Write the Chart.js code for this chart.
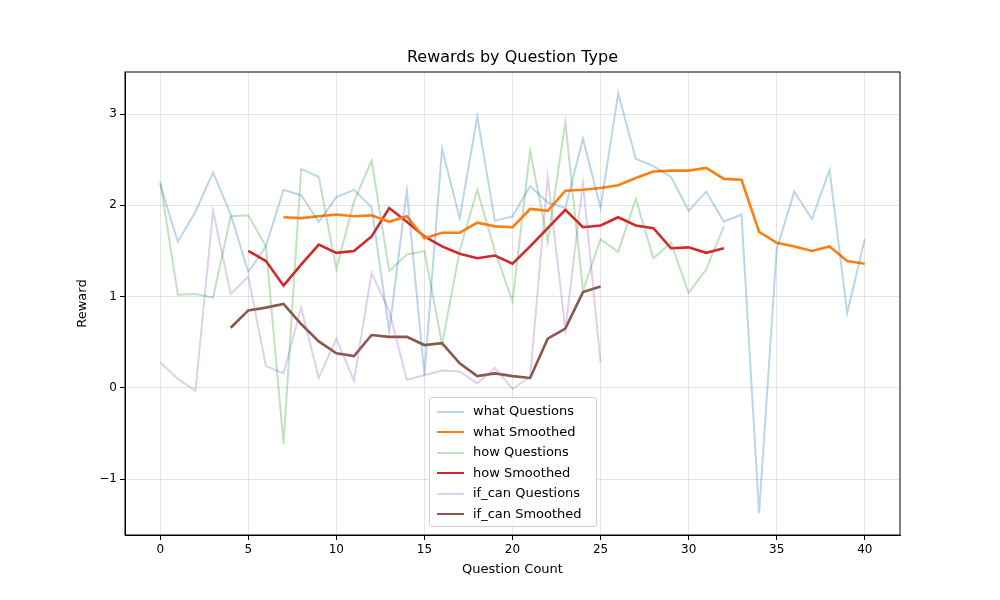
<!DOCTYPE html>
<html>
<head>
<meta charset="utf-8">
<script src="https://cdn.jsdelivr.net/npm/chart.js@4.4.0/dist/chart.umd.min.js"></script>
<style>
  body { margin: 0; background: #fff; font-family: "DejaVu Sans", sans-serif; }
  #wrap { position: relative; width: 1000px; height: 600px; }
  #legend {
    position: absolute; left: 429px; top: 397px; width: 166px;
    border: 1px solid #d0d0d0; border-radius: 3px; background: rgba(255,255,255,0.85);
    font-size: 13px; color: #000; padding: 3px 0 2px 0;
  }
  #legend div { height: 20.5px; line-height: 20.5px; white-space: nowrap; }
  #legend span { display: inline-block; width: 27px; margin: 0 9px 0 7px; vertical-align: middle; }
</style>
</head>
<body>
<div id="wrap">
  <canvas id="chart" width="1000" height="600"></canvas>
  <div id="legend"></div>
</div>
<script>
// raw rewards per question type
const whatRaw = [2.23,1.6,1.93,2.36,1.9,1.27,1.55,2.17,2.11,1.82,2.09,2.17,1.98,0.62,2.16,0.14,2.62,1.86,2.97,1.83,1.88,2.21,2.03,1.97,2.73,1.97,3.23,2.51,2.43,2.31,1.94,2.15,1.82,1.9,-1.37,1.52,2.15,1.85,2.39,0.82,1.63];
const howRaw = [2.26,1.02,1.03,0.99,1.88,1.89,1.55,-0.61,2.4,2.31,1.3,2.04,2.49,1.28,1.46,1.5,0.48,1.5,2.17,1.5,0.95,2.6,1.6,2.91,1.06,1.63,1.49,2.07,1.42,1.59,1.04,1.3,1.77];
const ifcanRaw = [0.28,0.1,-0.03,1.94,1.03,1.22,0.24,0.16,0.88,0.11,0.54,0.08,1.26,0.84,0.09,0.14,0.19,0.18,0.05,0.22,-0.01,0.12,2.31,0.64,2.24,0.28];

// smoothed curves and the x where each starts
const whatSmooth = [1.87,1.86,1.88,1.9,1.88,1.89,1.82,1.88,1.64,1.7,1.7,1.81,1.77,1.76,1.96,1.94,2.16,2.17,2.19,2.22,2.3,2.37,2.38,2.38,2.41,2.29,2.28,1.71,1.59,1.55,1.5,1.55,1.39,1.36];
const whatStart = 7;
const howSmooth = [1.5,1.39,1.12,1.35,1.57,1.48,1.5,1.66,1.97,1.82,1.66,1.55,1.47,1.42,1.45,1.36,1.55,1.75,1.95,1.76,1.78,1.87,1.78,1.75,1.53,1.54,1.48,1.53];
const howStart = 5;
const ifcanSmooth = [0.66,0.85,0.88,0.92,0.7,0.51,0.38,0.35,0.58,0.56,0.56,0.47,0.49,0.27,0.13,0.16,0.13,0.11,0.54,0.65,1.05,1.11];
const ifcanStart = 4;

function pts(arr, start) {
  return arr.map((v, i) => ({ x: i + start, y: v }));
}

const series = [
  { label: 'what Questions', data: pts(whatRaw, 0), color: 'rgba(31,119,180,0.3)', width: 2 },
  { label: 'what Smoothed', data: pts(whatSmooth, whatStart), color: '#ff7f0e', width: 2.6 },
  { label: 'how Questions', data: pts(howRaw, 0), color: 'rgba(44,160,44,0.3)', width: 2 },
  { label: 'how Smoothed', data: pts(howSmooth, howStart), color: '#d62728', width: 2.6 },
  { label: 'if_can Questions', data: pts(ifcanRaw, 0), color: 'rgba(148,103,189,0.3)', width: 2 },
  { label: 'if_can Smoothed', data: pts(ifcanSmooth, ifcanStart), color: '#8c564b', width: 2.6 }
];

// Legend
const legend = document.getElementById('legend');
series.forEach(s => {
  const row = document.createElement('div');
  row.innerHTML = '<span style="border-top:' + s.width + 'px solid ' + s.color + '"></span>' + s.label;
  legend.appendChild(row);
});

Chart.defaults.font.family = '"DejaVu Sans", sans-serif';
Chart.defaults.color = '#000';

new Chart(document.getElementById('chart'), {
  type: 'line',
  data: {
    datasets: series.map(s => ({
      label: s.label, data: s.data, borderColor: s.color, borderWidth: s.width,
      pointRadius: 0, tension: 0, fill: false
    }))
  },
  options: {
    responsive: false, animation: false,
    layout: { padding: { top: 72, right: 100, bottom: 0, left: 0 } },
    plugins: { legend: { display: false }, tooltip: { enabled: false } },
    scales: {
      x: {
        type: 'linear', min: -2, max: 42,
        ticks: { stepSize: 5, font: { size: 12 }, callback: v => v % 5 === 0 ? v : null },
        grid: { color: 'rgba(0,0,0,0.1)', tickColor: '#000', tickLength: 5 },
        border: { color: '#000' },
        afterFit: a => { a.height = 65; }
      },
      y: {
        min: -1.61, max: 3.46,
        ticks: { stepSize: 1, font: { size: 12 }, callback: v => Number.isInteger(v) ? String(v).replace('-', '\u2212') : null },
        grid: { color: 'rgba(0,0,0,0.1)', tickColor: '#000', tickLength: 5 },
        border: { color: '#000' },
        afterFit: a => { a.width = 125; }
      }
    }
  },
  plugins: [{
    id: 'frame',
    afterDraw(c) {
      const { ctx, chartArea: a } = c;
      const mid = (a.left + a.right) / 2;
      ctx.save();
      ctx.strokeStyle = '#000'; ctx.lineWidth = 1;
      ctx.strokeRect(a.left, a.top, a.right - a.left, a.bottom - a.top);
      ctx.fillStyle = '#000';
      ctx.textAlign = 'center'; ctx.textBaseline = 'middle';
      ctx.font = '16px "DejaVu Sans"';
      ctx.fillText('Rewards by Question Type', mid, 58);
      ctx.font = '13px "DejaVu Sans"';
      ctx.fillText('Question Count', mid, 570);
      ctx.translate(83, (a.top + a.bottom) / 2);
      ctx.rotate(-Math.PI / 2);
      ctx.fillText('Reward', 0, 0);
      ctx.restore();
    }
  }]
});
</script>
</body>
</html>
